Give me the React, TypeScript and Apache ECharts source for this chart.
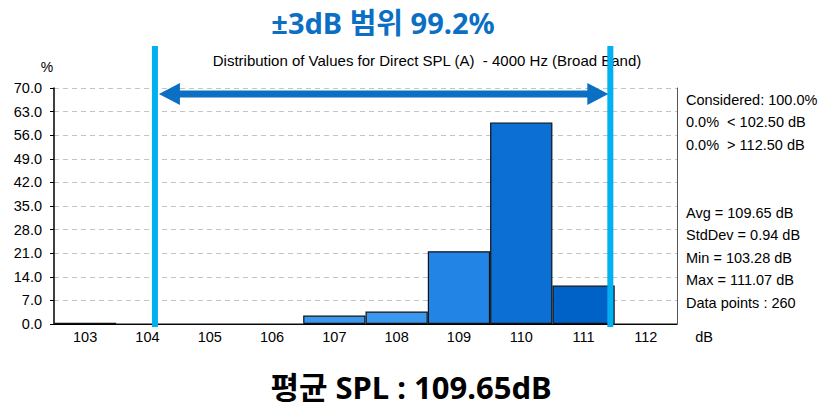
import React, { useEffect, useRef } from "react";
import * as echarts from "echarts";

const categories = ["103", "104", "105", "106", "107", "108", "109", "110", "111", "112"];
const percentValues = [0.4, 0, 0, 0, 2.5, 3.7, 21.6, 59.8, 11.4, 0];
const barColors = ["#4f9fe6", "#3a98ee", "#3a98ee", "#3a98ee", "#3a98ee", "#3a98ee", "#2285e6", "#0b6fd3", "#0062c6", "#0062c6"];
const yTicks = { min: 0, max: 70, interval: 7 };
const statLines = [
  "Considered: 100.0%",
  "0.0%  < 102.50 dB",
  "0.0%  > 112.50 dB",
  "",
  "",
  "Avg = 109.65 dB",
  "StdDev = 0.94 dB",
  "Min = 103.28 dB",
  "Max = 111.07 dB",
  "Data points : 260",
];
const rangeMarkers = [104.12, 111.43];
const topTitle = "±3dB 범위 99.2%";
const subTitle = "Distribution of Values for Direct SPL (A)  - 4000 Hz (Broad Band)";
const bottomTitle = "평균 SPL : 109.65dB";

const UI_FONT = "'Liberation Sans', Arial, sans-serif";
const KR_FONT = "'Noto Sans', 'Noto Sans CJK KR', sans-serif";

export default function App() {
  const ref = useRef<HTMLDivElement>(null);
  useEffect(() => {
    document.body.style.margin = "0";
    if (!ref.current) return;
    const chart = echarts.init(ref.current, undefined, { renderer: "svg" });
    const option: any = {
      animation: false,
      grid: { left: 54, right: 148, top: 88, bottom: 84, containLabel: false },
      xAxis: [
        {
          type: "category",
          data: categories,
          axisLine: { show: true, lineStyle: { color: "#000", width: 1 } },
          axisTick: { show: false },
          axisLabel: { color: "#000", fontSize: 14.5, fontFamily: UI_FONT, margin: 5 },
          splitLine: { show: false },
        },
      ],
      yAxis: [
        {
          type: "value",
          min: yTicks.min,
          max: yTicks.max,
          interval: yTicks.interval,
          axisLine: { show: true, lineStyle: { color: "#000", width: 1.5 } },
          axisTick: { show: true, length: 4, lineStyle: { color: "#000" } },
          axisLabel: {
            color: "#000",
            fontSize: 14.5,
            fontFamily: UI_FONT,
            margin: 12,
            formatter: (v: number) => v.toFixed(1),
          },
          splitLine: { show: true, lineStyle: { color: "#c4c4c4", type: [5, 4], width: 1 } },
        },
        {
          type: "value",
          position: "right",
          min: yTicks.min,
          max: yTicks.max,
          interval: yTicks.interval,
          axisLine: { show: true, lineStyle: { color: "#555", width: 1 } },
          axisTick: { show: false },
          axisLabel: { show: false },
          splitLine: { show: false },
        },
      ],
      series: [
        {
          type: "bar",
          data: percentValues.map((v, i) => ({ value: v, itemStyle: { color: barColors[i] } })),
          barWidth: "100%",
          barCategoryGap: "0%",
          itemStyle: { borderColor: "#111", borderWidth: 1.2 },
          z: 2,
        },
      ],
    };
    chart.setOption(option);

    const p0 = chart.convertToPixel({ xAxisIndex: 0 }, "103") as number;
    const p1 = chart.convertToPixel({ xAxisIndex: 0 }, "104") as number;
    const step = p1 - p0;
    const toX = (v: number) => p0 + (v - 103) * step;
    const xl = toX(rangeMarkers[0]);
    const xr = toX(rangeMarkers[1]);
    const arrowY = chart.convertToPixel({ yAxisIndex: 0 }, 68.2) as number;

    const graphics: any[] = [
      {
        type: "text",
        x: 383,
        y: 22,
        style: {
          text: topTitle,
          fill: "#0b70c4",
          font: `bold 29px ${KR_FONT}`,
          textAlign: "center",
          textVerticalAlign: "middle",
        },
      },
      {
        type: "text",
        x: 427,
        y: 60,
        style: {
          text: subTitle,
          fill: "#000",
          font: `15px ${UI_FONT}`,
          textAlign: "center",
          textVerticalAlign: "middle",
        },
      },
      {
        type: "text",
        x: 47,
        y: 67,
        style: { text: "%", fill: "#000", font: `14px ${UI_FONT}`, textAlign: "center", textVerticalAlign: "middle" },
      },
      {
        type: "text",
        x: 704,
        y: 337,
        style: { text: "dB", fill: "#000", font: `14.5px ${UI_FONT}`, textAlign: "center", textVerticalAlign: "middle" },
      },
      {
        type: "text",
        x: 411,
        y: 387,
        style: {
          text: bottomTitle,
          fill: "#000",
          font: `bold 31px ${KR_FONT}`,
          textAlign: "center",
          textVerticalAlign: "middle",
        },
      },
      {
        type: "rect",
        shape: { x: xl - 3, y: 46, width: 6, height: 281 },
        style: { fill: "#00b0f0" },
        z: 10,
      },
      {
        type: "rect",
        shape: { x: xr - 3, y: 46, width: 6, height: 281 },
        style: { fill: "#00b0f0" },
        z: 10,
      },
      {
        type: "rect",
        shape: { x: xl + 20, y: arrowY - 3.5, width: xr - xl - 40, height: 7 },
        style: { fill: "#0b70c4" },
        z: 11,
      },
      {
        type: "polygon",
        shape: { points: [[xl + 4, arrowY], [xl + 25, arrowY - 11], [xl + 25, arrowY + 11]] },
        style: { fill: "#0b70c4" },
        z: 11,
      },
      {
        type: "polygon",
        shape: { points: [[xr - 2, arrowY], [xr - 23, arrowY - 11], [xr - 23, arrowY + 11]] },
        style: { fill: "#0b70c4" },
        z: 11,
      },
    ];
    statLines.forEach((line, i) => {
      if (!line) return;
      graphics.push({
        type: "text",
        x: 686,
        y: 99.5 + i * 22.6,
        style: { text: line, fill: "#000", font: `14.5px ${UI_FONT}`, textAlign: "left", textVerticalAlign: "middle" },
      });
    });
    chart.setOption({ graphic: { elements: graphics } });

    return () => chart.dispose();
  }, []);
  return <div ref={ref} style={{ width: 825, height: 408 }} />;
}
